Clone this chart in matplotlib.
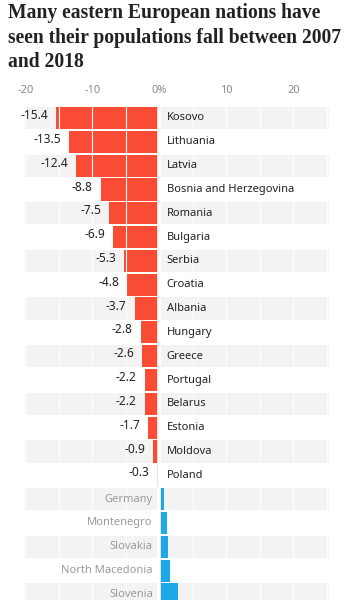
import matplotlib.pyplot as plt

countries = ['Kosovo', 'Lithuania', 'Latvia', 'Bosnia and Herzegovina', 'Romania',
             'Bulgaria', 'Serbia', 'Croatia', 'Albania', 'Hungary', 'Greece',
             'Portugal', 'Belarus', 'Estonia', 'Moldova', 'Poland', 'Germany',
             'Montenegro', 'Slovakia', 'North Macedonia', 'Slovenia']
change = [-15.4, -13.5, -12.4, -8.8, -7.5, -6.9, -5.3, -4.8, -3.7, -2.8, -2.6,
          -2.2, -2.2, -1.7, -0.9, -0.3, 0.6, 1.1, 1.2, 1.6, 2.8]
ticks = [-20, -10, 0, 10, 20]
tick_labels = ['-20', '-10', '0%', '10', '20']

W, H = 356, 600
fig = plt.figure(figsize=(W / 100, H / 100), dpi=100)

# axes placed in pixel terms so rows line up with the original
row0, step = 118, 23.82
top_px = row0 - step / 2
ax = fig.add_axes([25.5 / W, 0, (329 - 25.5) / W, 1 - top_px / H])
ymax = (H - row0) / step
ax.set_xlim(-20, 25.3)
ax.set_ylim(ymax, -0.5)

red = '#fa4b34'
blue = '#1ea8e9'
ys = list(range(len(countries)))

for i in ys:
    if i % 2 == 0:
        ax.axhspan(i - 0.465, i + 0.465, color='#f3f3f3', lw=0, zorder=0)

colors = [red if v < 0 else blue for v in change]
ax.barh(ys, change, height=0.93, color=colors, zorder=2)

for x in range(-20, 30, 5):
    ax.axvline(x, color='white', lw=0.8, zorder=3)
ax.axvline(0, color='white', lw=2.6, zorder=3)

font = 'Noto Sans'
for i, (c, v) in enumerate(zip(countries, change)):
    if v < 0:
        ax.text(1.1, i, c, ha='left', va='center', fontsize=8, color='#222222',
                family=font)
        ax.text(v - 1.2, i - 0.1, f'{v:.1f}', ha='right',
                va='center', fontsize=8.6, color='#222222', family=font)
    else:
        ax.text(-1.0, i, c, ha='right', va='center', fontsize=8, color='#9a9a9a',
                family=font)

ax.xaxis.tick_top()
ax.set_xticks(ticks)
ax.set_xticklabels(tick_labels, family=font, fontsize=8, color='#8a8a8a')
ax.tick_params(axis='x', length=0, pad=7)
ax.set_yticks([])
for s in ax.spines.values():
    s.set_visible(False)

fig.text(8 / W, 1 - 3 / H,
         'Many eastern European nations have\nseen their populations fall between 2007\nand 2018',
         ha='left', va='top', fontsize=14.1, fontweight='bold', family='Liberation Serif',
         color='#222222', linespacing=1.3)

fig.savefig('out.png', dpi=100)
